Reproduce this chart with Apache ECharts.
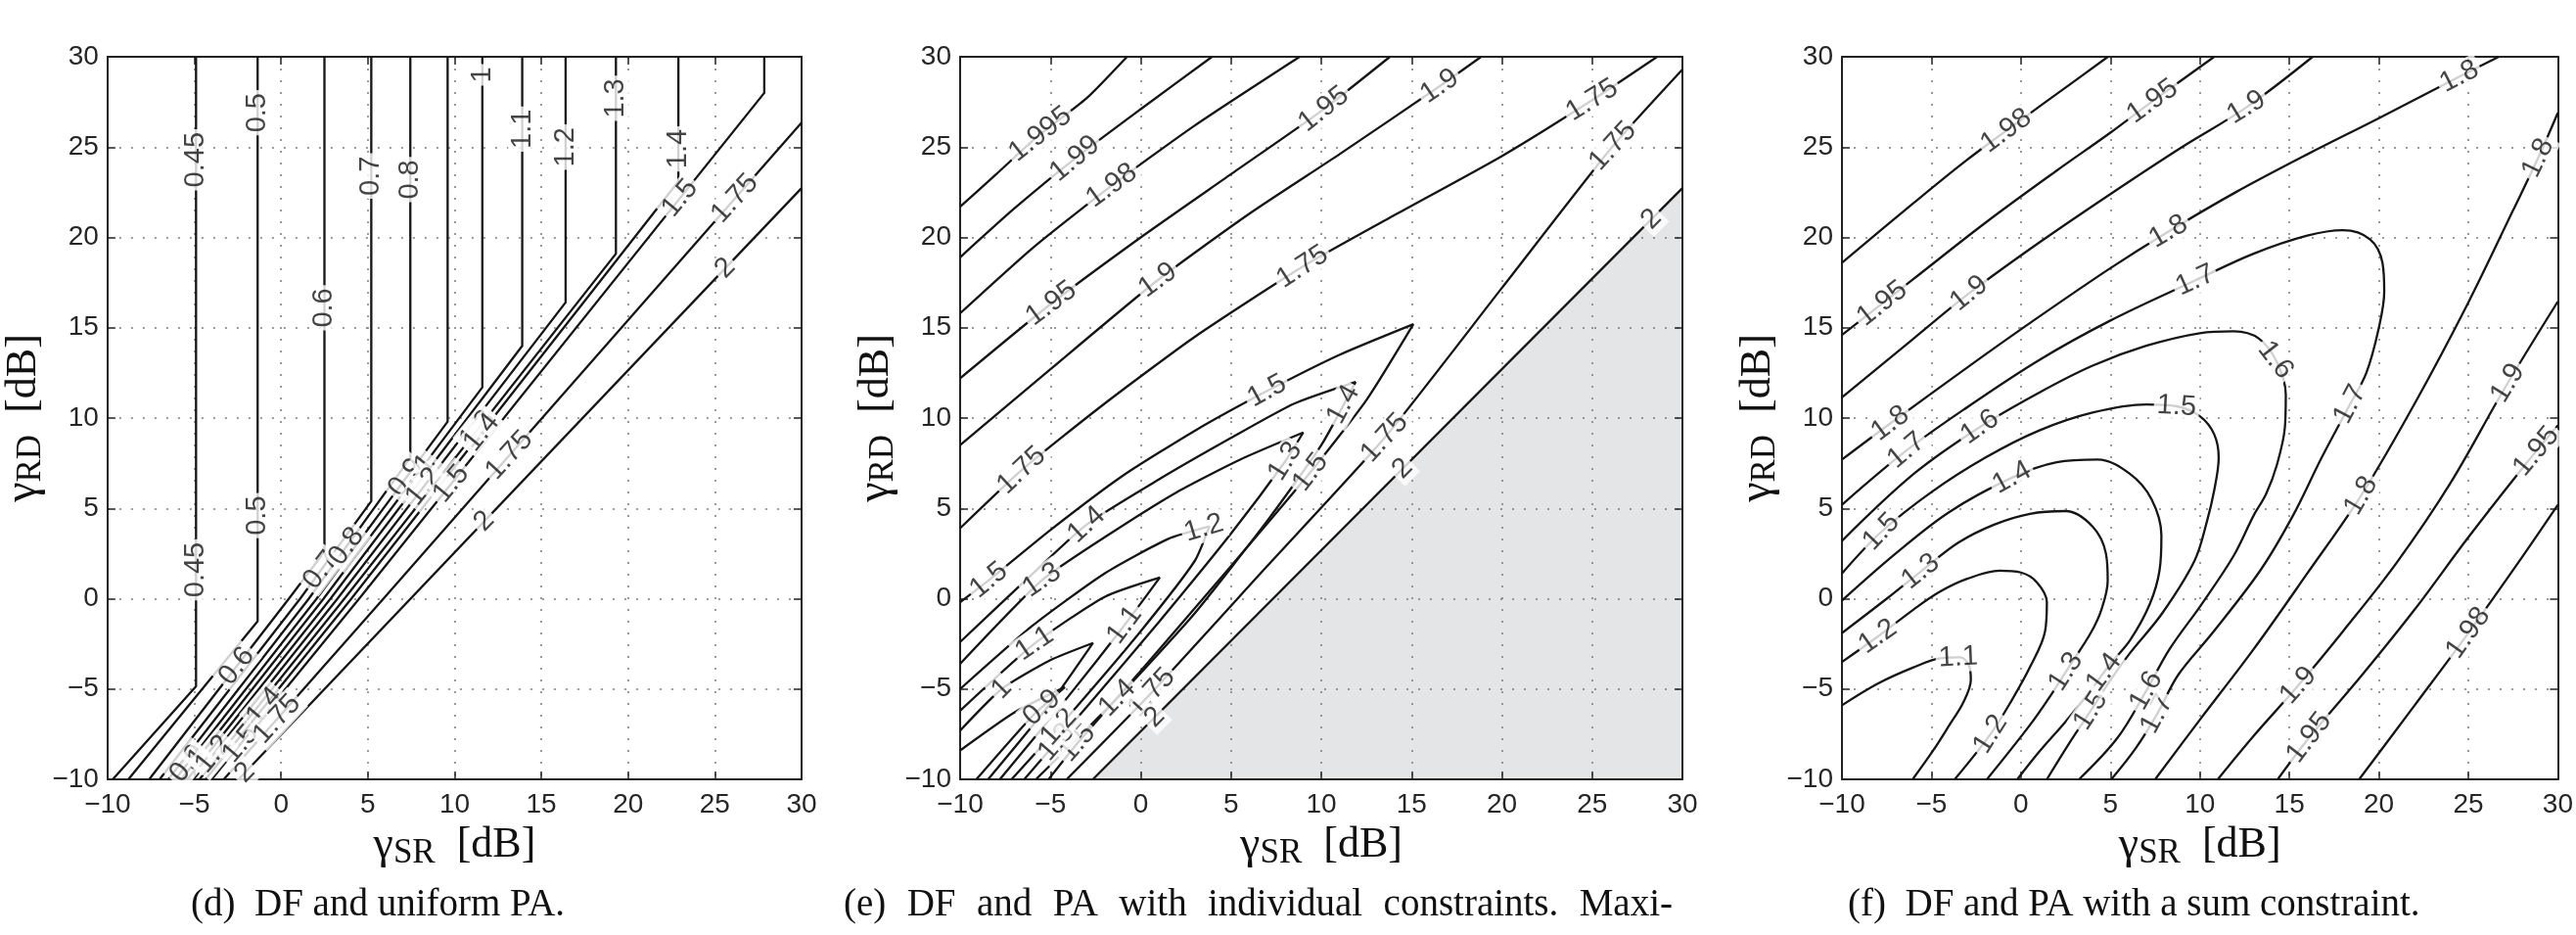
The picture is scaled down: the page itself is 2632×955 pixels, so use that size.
<!DOCTYPE html>
<html lang="en">
<head>
<meta charset="UTF-8">
<title>DF contours</title>
<script src="https://cdn.jsdelivr.net/npm/echarts@6/dist/echarts.min.js"></script>
<style>html,body{margin:0;background:#fff}#chart{width:2632px;height:955px}</style>
</head>
<body>
<div id="chart"></div>
<script type="text/javascript">
// axis ticks shared by all three panels
var ticks = [-10, -5, 0, 5, 10, 15, 20, 25, 30];

// (d) DF and uniform PA : [level, polyline]
var dContours = [
    ['0.45', [[-4.9, 30], [-4.9, -4.85], [-9.7, -10]]],
    ['0.5', [[-1.35, 30], [-1.35, -1.25], [-8.8, -10]]],
    ['0.6', [[2.5, 30], [2.5, 2.6], [0.45, 0], [-7.6, -10]]],
    ['0.7', [[5.2, 30], [5.2, 5.4], [1.1, 0], [-7.0, -10]]],
    ['0.8', [[7.45, 30], [7.45, 7.8], [1.6, 0], [-6.5, -10]]],
    ['0.9', [[9.6, 30], [9.6, 9.8], [2.05, 0], [-6.1, -10]]],
    ['1', [[11.6, 30], [11.6, 11.7], [2.45, 0], [-5.75, -10]]],
    ['1.1', [[13.9, 30], [13.9, 14.0], [2.85, 0], [-5.4, -10]]],
    ['1.2', [[16.4, 30], [16.4, 16.4], [3.25, 0], [-5.05, -10]]],
    ['1.3', [[19.3, 30], [19.3, 19.1], [3.65, 0], [-4.7, -10]]],
    ['1.4', [[22.9, 30], [22.9, 23.1], [4.05, 0], [-4.35, -10]]],
    ['1.5', [[27.85, 30], [27.85, 28.0], [4.5, 0], [-4.0, -10]]],
    ['1.75', [[30, 26.36], [5.9, 0], [-3.3, -10]]],
    ['2', [[30, 22.73], [-2.45, -10]]]
];
var dLabels = [
    ['0.45', -4.9, 24.3], ['0.45', -4.9, 1.6], ['0.5', -1.35, 26.9], ['0.5', -1.35, 4.6],
    ['0.6', 2.5, 16.1], ['0.6', -2.6, -3.7], ['0.7', 5.2, 23.4], ['0.7', 2.4, 1.5],
    ['0.8', 7.45, 23.2], ['0.8', 3.9, 2.8], ['1', 11.6, 29.0], ['1.1', 13.9, 26.0],
    ['1.2', 16.4, 25.0], ['1.3', 19.3, 27.7], ['1.4', 22.9, 24.9], ['1.5', 23.2, 22.0],
    ['1.75', 26.1, 22.2], ['2', 25.5, 18.4],
    ['0.9', 7.6, 6.4], ['1', 8.9, 7.0], ['1.2', 8.6, 5.9], ['1.3', 11.8, 9.0],
    ['1.4', 12.4, 8.5], ['1.5', 10.6, 5.7], ['1.75', 13.2, 7.9], ['2', 11.6, 4.4],
    ['0.9', -5.9, -8.7], ['1', -5.3, -8.4], ['1.2', -4.4, -8.2], ['1.4', -0.9, -6.0],
    ['1.5', -2.4, -8.0], ['1.75', -0.3, -6.6], ['2', -2.2, -9.5]
];

// (e) DF and PA with individual constraints
var eShade = [[-2.65, -10], [30, 22.73]];
var eContours = [
    ['1.995', [[-10, 21.7], [-8, 23.5], [-5.7, 25.6], [-3, 27.7], [-0.76, 30]]],
    ['1.99', [[-10, 18.9], [-7, 21.6], [-3.6, 24.4], [0, 27.1], [3.95, 30]]],
    ['1.98', [[-10, 15.8], [-6, 19.4], [-1.7, 22.8], [3, 26.2], [8.8, 30]]],
    ['1.95', [[-10, 12.2], [-5, 16.3], [0, 20.0], [5, 23.5], [10, 27.0], [13.8, 30]]],
    ['1.9', [[-10, 8.5], [-5, 12.7], [0.9, 17.6], [6, 21.3], [11, 24.6], [16.6, 28.4], [18.85, 30]]],
    ['1.75', [[-10, 3.9], [-6.5, 7.2], [-2, 10.8], [3, 14.5], [9, 18.4], [14, 21.2], [20, 24.5], [25, 27.6], [28.6, 30]]],
    ['1.75', [[-4.1, -10], [0.6, -5.2], [7, 1.8], [13.5, 8.9], [20, 17.2], [26.1, 25.0], [30, 29.3]]],
    ['1.5', [[-10, -0.2], [-8.5, 0.95], [-5, 3.8], [-1, 6.8], [3, 9.3], [7, 11.5], [11, 13.5], [15.1, 15.2],
             [12.5, 11.0], [9.4, 7.0], [5, 1.8], [0, -4.0], [-3.5, -8.0], [-5.1, -10]]],
    ['1.4', [[-10, -2.4], [-6.5, 0.9], [-3, 4.1], [1, 6.6], [5, 8.9], [8.5, 10.8], [11.9, 12.0],
             [10, 8.5], [7, 4.3], [3, -0.8], [-1.3, -5.5], [-5.8, -10]]],
    ['1.3', [[-10, -3.6], [-5.5, 1.0], [-2, 3.4], [2, 5.9], [5.5, 7.7], [9.0, 9.2],
             [8, 7.6], [5, 3.6], [1, -1.3], [-3, -6.0], [-6.45, -10]]],
    ['1.2', [[-10, -5.0], [-6, -1.5], [-2, 1.4], [1.5, 3.3], [3.8, 4.0],
             [3, 2.1], [0, -1.8], [-4, -6.5], [-7.15, -10]]],
    ['1.1', [[-10, -6.2], [-5.9, -2.5], [-2, 0.1], [1.06, 1.17], [-1, -1.6], [-4, -5.4], [-7.8, -10]]],
    ['1', [[-10, -7.3], [-7.7, -5.0], [-5, -3.4], [-2.64, -2.45], [-5, -5.8], [-8.45, -10]]],
    ['0.9', [[-10, -8.4], [-7, -6.3], [-4.2, -4.9], [-6, -6.5], [-9.1, -10]]],
    ['2', [[-2.65, -10], [30, 22.73]]]
];
var eLabels = [
    ['1.995', -5.7, 25.9], ['1.99', -3.6, 24.3], ['1.98', -1.7, 23.0],
    ['1.95', -5.0, 16.4], ['1.95', 10.3, 26.9], ['1.9', 0.9, 17.7], ['1.9', 16.6, 28.3],
    ['1.75', -6.6, 7.1], ['1.75', 9.0, 18.3], ['1.75', 25.0, 27.6], ['1.75', 26.2, 25.0],
    ['1.75', 13.5, 8.9], ['1.75', 0.6, -5.2],
    ['1.5', -8.4, 1.0], ['1.5', 7.0, 11.5], ['1.5', 9.4, 7.0], ['1.5', -3.5, -8.0],
    ['1.4', -3.1, 4.2], ['1.4', 11.3, 10.7], ['1.4', -1.3, -5.5],
    ['1.3', -5.45, 1.0], ['1.3', 8.0, 7.6], ['1.3', -4.6, -8.0],
    ['1.2', 3.5, 3.9], ['1.2', -4.1, -7.5],
    ['1.1', -5.9, -2.45], ['1.1', -0.7, -1.6], ['1', -7.7, -5.0], ['0.9', -5.6, -5.9],
    ['2', 14.5, 7.2], ['2', 28.3, 21.0], ['2', 0.8, -6.6]
];

// (f) DF and PA with a sum constraint
var fContours = [
    ['1.1', [[-10, -5.9], [-8, -4.7], [-6, -3.8], [-4.5, -3.3], [-3.4, -3.25], [-2.9, -3.7], [-2.8, -4.5],
             [-3.2, -5.7], [-4.0, -7.0], [-4.9, -8.4], [-6.05, -10]]],
    ['1.2', [[-10, -3.5], [-8, -2.1], [-6, -0.6], [-4.5, 0.4], [-3, 1.1], [-1.2, 1.55], [0, 1.45], [0.9, 0.9],
             [1.45, -0.2], [1.35, -1.8], [0.5, -3.8], [-0.5, -5.6], [-1.7, -7.5], [-3.7, -10]]],
    ['1.3', [[-10, -1.9], [-7.5, 0.0], [-5.6, 1.5], [-3.5, 3.1], [-1.5, 4.1], [0.5, 4.7], [2.5, 4.85], [4.0, 4.0],
             [4.75, 2.5], [4.85, 1.0], [4.5, -0.6], [3.9, -1.9], [2.8, -3.6], [1.7, -5.3], [0.5, -7.0], [-1.9, -10]]],
    ['1.4', [[-10, -0.1], [-7, 2.5], [-4, 4.8], [-0.5, 6.7], [2, 7.55], [4.3, 7.7], [6.1, 6.9], [7.3, 5.5],
             [7.85, 3.5], [7.75, 1.6], [7.2, -0.3], [6.1, -2.3], [5.0, -3.6], [3.8, -5.2], [2.5, -6.8], [1.0, -8.5], [-0.2, -10]]],
    ['1.5', [[-10, 1.4], [-7.8, 3.7], [-5, 5.9], [-2, 7.8], [1, 9.3], [4, 10.3], [7, 10.75], [8.7, 10.65], [10, 10.1],
             [10.8, 9.1], [11.05, 7.8], [10.8, 6.0], [10.4, 4.3], [9.7, 2.1], [7.9, -0.8], [6.1, -3.0], [5.0, -4.5],
             [3.9, -6.2], [2.7, -8.0], [1.45, -10]]],
    ['1.6', [[-10, 3.2], [-6, 6.9], [-2.3, 9.5], [1, 11.4], [4, 12.9], [7, 14.0], [10, 14.7], [11.9, 14.8], [13.3, 14.4],
             [14.3, 13.1], [14.8, 11.3], [14.75, 9.5], [14.3, 7.4], [13.7, 5.8], [13.0, 4.6], [11.9, 2.4], [10.1, -0.3],
             [8.3, -2.8], [7.0, -5.1], [5.4, -7.7], [3.25, -10]]],
    ['1.7', [[-10, 5.2], [-6.4, 8.2], [-3, 10.6], [1, 13.2], [5, 15.4], [9.7, 17.6], [13, 19.1], [16, 20.1], [18, 20.4],
             [19.5, 19.9], [20.2, 18.6], [20.3, 17.0], [20.0, 15.0], [19.3, 12.5], [18.3, 10.6], [16.8, 7.8], [15.2, 4.6],
             [13.4, 1.6], [10.7, -1.9], [8.8, -4.2], [7.6, -6.4], [6.4, -8.3], [5.05, -10]]],
    ['1.8', [[-10, 7.7], [-7.3, 9.7], [-3, 12.8], [1, 15.6], [5, 18.3], [8.2, 20.3], [12, 22.5], [16, 24.6], [20, 26.6],
             [24.5, 28.9], [26.7, 30]]],
    ['1.8', [[7.5, -10], [10, -6.7], [13, -2.8], [16, 1.4], [19, 5.7], [22, 10.8], [25, 16.4], [27.5, 21.5], [28.9, 24.4], [30, 26.9]]],
    ['1.9', [[-10, 11.15], [-6, 14.4], [-2.9, 16.9], [1, 19.7], [5, 22.4], [9, 25.0], [12.6, 27.2], [16.3, 30]]],
    ['1.9', [[11, -10], [13, -7.6], [15.5, -4.8], [18, -1.8], [21, 2.0], [24, 6.4], [27, 11.6], [30, 16.45]]],
    ['1.95', [[-10, 14.6], [-6, 17.7], [-2, 20.8], [2, 23.7], [5, 25.8], [7.3, 27.5], [10.8, 30]]],
    ['1.95', [[14.35, -10], [16.1, -7.7], [19, -4.3], [22, -0.6], [25, 3.4], [28, 7.2], [30, 9.6]]],
    ['1.98', [[-10, 18.6], [-6, 21.9], [-3, 24.3], [0, 26.5], [2.5, 28.3], [4.86, 30]]],
    ['1.98', [[18.9, -10], [22, -5.9], [25, -1.9], [28, 2.3], [30, 5.2]]]
];
var fLabels = [
    ['1.98', -0.9, 26.0], ['1.98', 25.0, -1.9],
    ['1.95', -7.8, 16.4], ['1.95', 7.3, 27.6], ['1.95', 16.1, -7.7], ['1.95', 28.5, 8.4],
    ['1.9', -2.9, 16.9], ['1.9', 12.6, 27.2], ['1.9', 15.5, -4.8], ['1.9', 27.1, 12.0],
    ['1.8', -7.3, 9.7], ['1.8', 8.2, 20.4], ['1.8', 24.5, 28.9], ['1.8', 28.9, 24.4], ['1.8', 19.0, 5.7],
    ['1.7', -6.4, 8.2], ['1.7', 9.7, 17.7], ['1.7', 18.3, 10.8], ['1.7', 7.6, -6.4],
    ['1.6', -2.3, 9.5], ['1.6', 14.2, 13.2], ['1.6', 7.0, -5.1],
    ['1.5', -7.8, 3.7], ['1.5', 8.7, 10.7], ['1.5', 3.9, -6.2],
    ['1.4', -0.5, 6.7], ['1.4', 4.4, -3.9],
    ['1.3', -5.6, 1.5], ['1.3', 2.6, -4.1],
    ['1.2', -8.0, -2.1], ['1.2', -1.7, -7.5],
    ['1.1', -3.5, -3.25]
];

var captions = ['(d)  DF and uniform PA.',
    '(e)  DF and PA with individual constraints. Maxi-',
    '(f)  DF and PA with a sum constraint.'];

var frames = [{left: 80, width: 739}, {left: 981, width: 738}, {left: 1882, width: 739}];
var captionSpan = [[195, null], [862, 1709], [1888, null]];
var panels = [
    {contours: dContours, labels: dLabels, smooth: false},
    {contours: eContours, labels: eLabels, smooth: 0.2, shade: eShade},
    {contours: fContours, labels: fLabels, smooth: 0.35}
];

// put a label on the nearest point of its contour, turned along the line
function snapLabel(contours, lab) {
    var best = null;
    contours.forEach(function (c) {
        if (c[0] !== lab[0]) return;
        var p = c[1];
        for (var i = 0; i < p.length - 1; i++) {
            var ax = p[i][0], ay = p[i][1], bx = p[i + 1][0], by = p[i + 1][1];
            var dx = bx - ax, dy = by - ay, l2 = dx * dx + dy * dy;
            if (!l2) continue;
            var t = ((lab[1] - ax) * dx + (lab[2] - ay) * dy) / l2;
            t = Math.max(0, Math.min(1, t));
            var qx = ax + t * dx, qy = ay + t * dy;
            var d = (qx - lab[1]) * (qx - lab[1]) + (qy - lab[2]) * (qy - lab[2]);
            if (!best || d < best.d) {
                var ang = Math.atan2(dy, dx) * 180 / Math.PI;
                if (ang > 90) ang -= 180;
                if (ang <= -90) ang += 180;
                best = {d: d, x: qx, y: qy, ang: ang};
            }
        }
    });
    return best;
}

function minus(v) { return v < 0 ? '\u2212' + (-v) : String(v); }

// caption words, spread out when the caption is justified
var capFont = '39px "Liberation Serif"';
var measure = document.createElement('canvas').getContext('2d');
measure.font = capFont;
function captionItems(text, x0, x1) {
    if (!x1) {
        return [{type: 'text', x: x0, y: 925,
            style: {text: text, font: capFont, fill: '#111', textAlign: 'left', textVerticalAlign: 'middle'}}];
    }
    var words = text.split(' ').filter(function (w) { return w; });
    var widths = words.map(function (w) { return measure.measureText(w).width; });
    var total = widths.reduce(function (a, b) { return a + b; }, 0);
    var gap = (x1 - x0 - total) / (words.length - 1);
    var x = x0, out = [];
    words.forEach(function (w, i) {
        out.push({type: 'text', x: x, y: 925,
            style: {text: w, font: capFont, fill: '#111', textAlign: 'left', textVerticalAlign: 'middle'}});
        x += widths[i] + gap;
    });
    return out;
}

var grid = [], xAxis = [], yAxis = [], series = [], graphic = [];
var boxLine = {show: true, onZero: false, lineStyle: {color: '#222', width: 2}};
var tickIn = {show: true, inside: true, length: 8, lineStyle: {color: '#222', width: 1.5}};
var dots = {show: true, lineStyle: {type: [2, 10], color: '#7a7a7a', width: 1.5}};
var nameStyle = function () {
    return {
        color: '#111', fontFamily: 'Liberation Serif', fontSize: 44,
        rich: {
            g: {fontFamily: 'Liberation Serif', fontSize: 46, color: '#111'},
            s: {fontFamily: 'Liberation Serif', fontSize: 35, color: '#111', padding: [16, 0, 0, 0]},
            b: {fontFamily: 'Liberation Serif', fontSize: 44, color: '#111'}
        }
    };
};

panels.forEach(function (pn, k) {
    grid.push({left: frames[k].left, top: 58, width: frames[k].width, height: 738});
    var common = {type: 'value', min: -10, max: 30, interval: 5, gridIndex: k, z: 3};
    xAxis.push(Object.assign({}, common, {
        position: 'bottom', axisLine: boxLine, axisTick: tickIn, splitLine: dots,
        axisLabel: {fontFamily: 'Liberation Sans', fontSize: 28, color: '#262626', margin: 12, formatter: minus},
        name: '{g|γ}{s|SR}  {b|[dB]}', nameLocation: 'middle', nameGap: 38, nameTextStyle: nameStyle()
    }));
    xAxis.push(Object.assign({}, common, {
        position: 'top', axisLine: boxLine, axisTick: tickIn, splitLine: {show: false}, axisLabel: {show: false}
    }));
    yAxis.push(Object.assign({}, common, {
        position: 'left', axisLine: boxLine, axisTick: tickIn, splitLine: dots,
        axisLabel: {fontFamily: 'Liberation Sans', fontSize: 28, color: '#262626', margin: 9, formatter: minus},
        name: '{g|γ}{s|RD}  {b|[dB]}', nameLocation: 'middle', nameGap: 28, nameTextStyle: nameStyle()
    }));
    yAxis.push(Object.assign({}, common, {
        position: 'right', axisLine: boxLine, axisTick: tickIn, splitLine: {show: false}, axisLabel: {show: false}
    }));

    if (pn.shade) {
        series.push({
            type: 'line', xAxisIndex: 2 * k, yAxisIndex: 2 * k, data: pn.shade, z: 1,
            showSymbol: false, silent: true, lineStyle: {width: 0},
            areaStyle: {color: '#e4e5e7', opacity: 1, origin: 'start'}
        });
    }
    pn.contours.forEach(function (c) {
        series.push({
            type: 'line', xAxisIndex: 2 * k, yAxisIndex: 2 * k, data: c[1], z: 4,
            showSymbol: false, silent: true, smooth: pn.smooth,
            lineStyle: {color: '#151515', width: 2.3}
        });
    });
    var pts = pn.labels.map(function (lab) {
        var s = snapLabel(pn.contours, lab);
        return {name: lab[0], value: [s.x, s.y], label: {rotate: s.ang}};
    });
    series.push({
        type: 'scatter', xAxisIndex: 2 * k, yAxisIndex: 2 * k, data: pts, z: 5,
        symbolSize: 1, itemStyle: {color: 'rgba(0,0,0,0)'}, silent: true,
        label: {
            show: true, position: 'inside', formatter: '{b}',
            fontFamily: 'Liberation Sans', fontSize: 29, color: '#151515',
            backgroundColor: '#fff', padding: [0, 3]
        }
    });

    graphic = graphic.concat(captionItems(captions[k], captionSpan[k][0], captionSpan[k][1]));
});

var myChart = echarts.init(document.getElementById('chart'));
myChart.setOption({
    backgroundColor: '#fff',
    animation: false,
    grid: grid,
    xAxis: xAxis,
    yAxis: yAxis,
    series: series,
    graphic: graphic
});
</script>
</body>
</html>
